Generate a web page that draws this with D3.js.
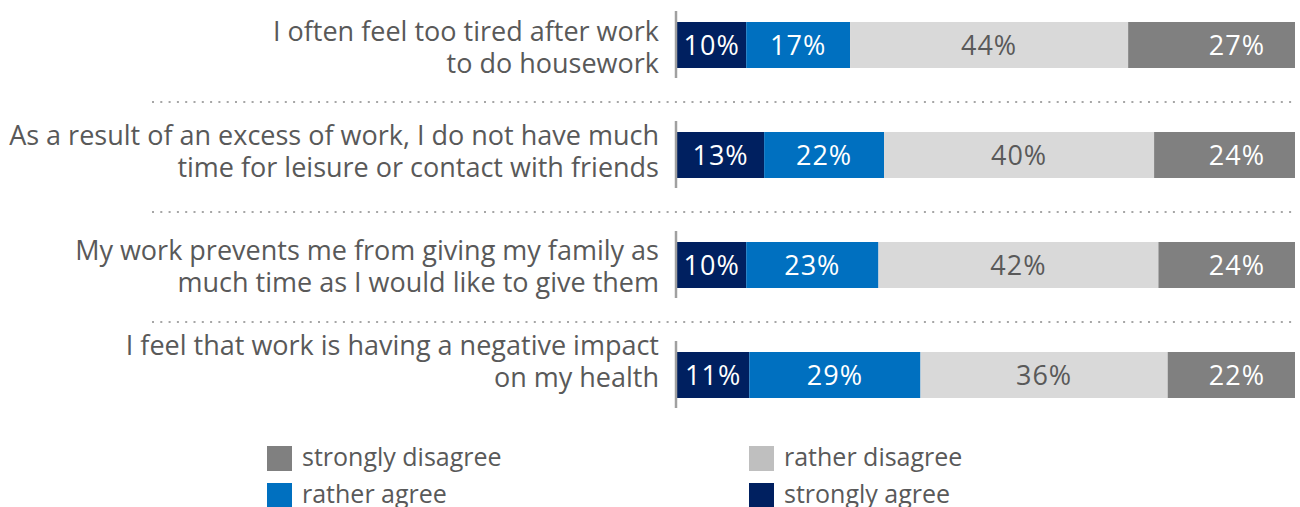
<!DOCTYPE html>
<html>
<head>
<meta charset="utf-8">
<script src="https://cdn.jsdelivr.net/npm/d3@7"></script>
<style>
  body { margin: 0; background: #fff; }
  svg { display: block; font-family: "Open Sans", sans-serif; }
</style>
</head>
<body>
<svg width="1300" height="507"></svg>
<script>
// statements (each split in two lines as in the original)
const categories = [
  ["I often feel too tired after work", "to do housework"],
  ["As a result of an excess of work, I do not have much", "time for leisure or contact with friends"],
  ["My work prevents me from giving my family as", "much time as I would like to give them"],
  ["I feel that work is having a negative impact", "on my health"]
];

const seriesKeys = ["strongly agree", "rather agree", "rather disagree", "strongly disagree"];

// printed percentages
const stronglyAgree = [10, 13, 10, 11];
const ratherAgree = [17, 22, 23, 29];
const ratherDisagree = [44, 40, 42, 36];
const stronglyDisagree = [27, 24, 24, 22];

// segment lengths as drawn (share of bar)
const stronglyAgreeBar = [11.2, 14.1, 11.2, 11.7];
const ratherAgreeBar = [16.8, 19.4, 21.4, 27.7];
const ratherDisagreeBar = [45.0, 43.7, 45.3, 40.0];
const stronglyDisagreeBar = [27.0, 22.8, 22.1, 20.6];

const legendOrder = ["strongly disagree", "rather disagree", "rather agree", "strongly agree"];

// ---- styles / layout ----
const barColor = {
  "strongly agree": "#002060",
  "rather agree": "#0070C0",
  "rather disagree": "#D9D9D9",
  "strongly disagree": "#808080"
};
const legendColor = {
  "strongly agree": "#002060",
  "rather agree": "#0070C0",
  "rather disagree": "#BFBFBF",
  "strongly disagree": "#808080"
};
const textColor = {
  "strongly agree": "#fff",
  "rather agree": "#fff",
  "rather disagree": "#595959",
  "strongly disagree": "#fff"
};
const labelShift = [3, -3, 2, -13];

const svg = d3.select("svg");

const rows = categories.map((c, i) => ({
  id: i,
  "strongly agree": stronglyAgreeBar[i],
  "rather agree": ratherAgreeBar[i],
  "rather disagree": ratherDisagreeBar[i],
  "strongly disagree": stronglyDisagreeBar[i]
}));
const printed = {
  "strongly agree": stronglyAgree,
  "rather agree": ratherAgree,
  "rather disagree": ratherDisagree,
  "strongly disagree": stronglyDisagree
};

const x = d3.scaleLinear().domain([0, 100]).range([677, 1295]);
const y = d3.scaleBand()
  .domain(rows.map(d => d.id))
  .range([22, 22 + 3 * 110 + 46])
  .paddingInner(64 / 110)
  .paddingOuter(0);

const stack = d3.stack().keys(seriesKeys);
const layers = stack(rows);

// dotted separators
svg.append("g").selectAll("line")
  .data(rows.slice(1))
  .join("line")
  .attr("x1", 152)
  .attr("x2", 1295)
  .attr("y1", d => y(d.id) - (y.step() - y.bandwidth()) / 2 + 2)
  .attr("y2", d => y(d.id) - (y.step() - y.bandwidth()) / 2 + 2)
  .attr("stroke", "#a6a6a6")
  .attr("stroke-width", 2)
  .attr("stroke-dasharray", "2 6.3");

// bars
const layer = svg.append("g").selectAll("g")
  .data(layers)
  .join("g")
  .attr("fill", d => barColor[d.key]);

layer.selectAll("rect")
  .data(d => d.map(p => Object.assign(p, { key: d.key })))
  .join("rect")
  .attr("x", d => x(d[0]))
  .attr("width", d => x(d[1]) - x(d[0]))
  .attr("y", d => y(d.data.id))
  .attr("height", y.bandwidth());

// value labels
layer.selectAll("text")
  .data(d => d)
  .join("text")
  .attr("x", d => d.key === "strongly disagree" ? x(d[1]) - 30 : (x(d[0]) + x(d[1])) / 2)
  .attr("y", d => y(d.data.id) + y.bandwidth() / 2 + 10)
  .attr("text-anchor", d => d.key === "strongly disagree" ? "end" : "middle")
  .attr("fill", d => textColor[d.key])
  .attr("font-size", 27)
  .attr("letter-spacing", 1)
  .text(d => printed[d.key][d.data.id] + "%");

// small vertical axis per row
svg.append("g").selectAll("line")
  .data(rows)
  .join("line")
  .attr("x1", 676).attr("x2", 676)
  .attr("y1", d => y(d.id) - 11)
  .attr("y2", d => y(d.id) + y.bandwidth() + 10)
  .attr("stroke", "#a0a0a0")
  .attr("stroke-width", 2.5);

// category labels
const cat = svg.append("g").selectAll("text")
  .data(rows)
  .join("text")
  .attr("text-anchor", "end")
  .attr("fill", "#595959")
  .attr("font-size", 27)
  .attr("y", d => y(d.id) + y.bandwidth() / 2 + labelShift[d.id]);

cat.selectAll("tspan")
  .data(d => categories[d.id])
  .join("tspan")
  .attr("x", 659)
  .attr("dy", (d, i) => i === 0 ? -7 : 32)
  .text(d => d);

// legend
const legend = svg.append("g").selectAll("g")
  .data(legendOrder)
  .join("g")
  .attr("transform", (d, i) => `translate(${i % 2 ? 749 : 267},${i < 2 ? 446 : 483})`);

legend.append("rect")
  .attr("width", 25).attr("height", 25)
  .attr("fill", d => legendColor[d]);

legend.append("text")
  .attr("x", 35)
  .attr("y", 20)
  .attr("fill", "#595959")
  .attr("font-size", 25)
  .text(d => d);
</script>
</body>
</html>
